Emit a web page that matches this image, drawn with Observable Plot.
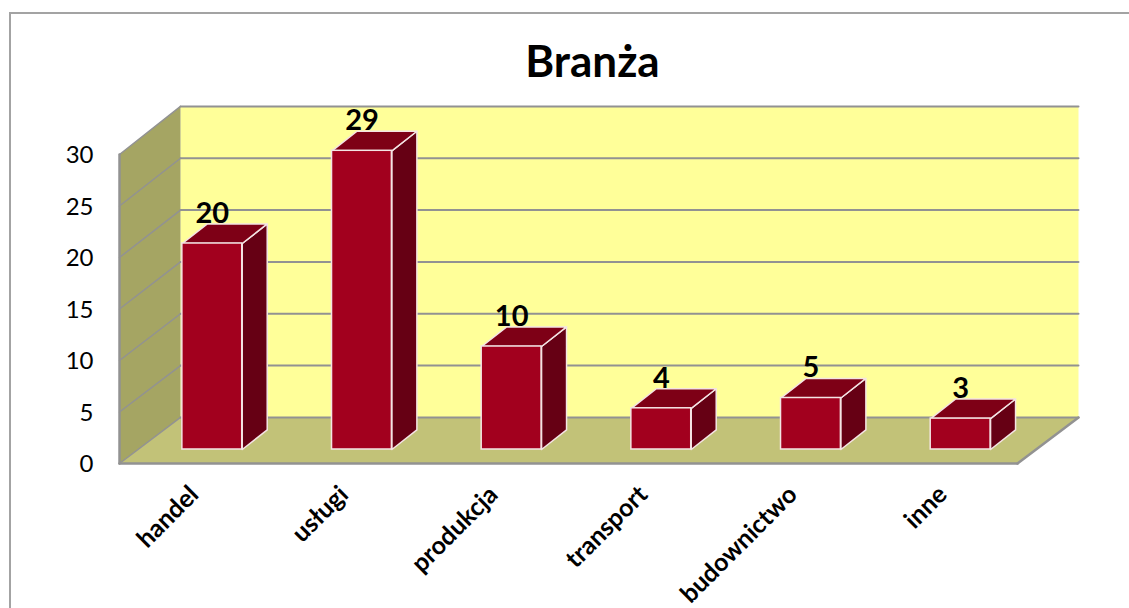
<!DOCTYPE html>
<html><head><meta charset="utf-8">
<script src="https://cdn.jsdelivr.net/npm/d3@7"></script>
<script src="https://cdn.jsdelivr.net/npm/@observablehq/plot@0.6"></script>
<style>
html,body{margin:0;padding:0;background:#fff;overflow:hidden}
#frame{position:absolute;left:9px;top:12px;right:-5px;bottom:-5px;border:2px solid #a3a3a3;box-sizing:border-box}
#title{position:relative;height:90px;width:1129px;box-sizing:border-box;padding-top:34px;padding-left:56px;text-align:center;font:700 44px/52px Lato,sans-serif;color:#000}
#chart svg{display:block;background:transparent}
</style></head><body>
<div id="frame"></div>
<div id="title">Branża</div>
<div id="chart"></div>
<script>
const categories = ["handel","usługi","produkcja","transport","budownictwo","inne"];
const values = [20,29,10,4,5,3];
const yTicks = [0,5,10,15,20,25,30];

// Fake-3D geometry, in data units of the x and y scales
const wallDx = 0.4076, wallDy = 4.47, backScale = 1.0067;
const barOff = 0.42, barW = 0.4, barBase = 1.36, barDx = 0.167, barDy = 1.9;

const poly = (id, pts) => pts.map(([x,y]) => ({id, x, y}));
const backY = v => wallDy + v * backScale;

const back  = poly("back",  [[wallDx,backY(0)],[wallDx,backY(30)],[6+wallDx,backY(30)],[6+wallDx,backY(0)]]);
const left  = poly("left",  [[0,0],[0,30],[wallDx,backY(30)],[wallDx,backY(0)]]);
const floor = poly("floor", [[0,0],[wallDx,backY(0)],[6+wallDx,backY(0)],[6,0]]);

const gridBack = yTicks.flatMap(v => poly("b"+v, [[wallDx,backY(v)],[6+wallDx,backY(v)]]));
const gridLeft = yTicks.flatMap(v => poly("l"+v, [[0,v],[wallDx,backY(v)]]));
const edges = [
  ...poly("axisL", [[0,0],[0,30]]),
  ...poly("axisB", [[0,0],[6,0]]),
  ...poly("floorR", [[6,0],[6+wallDx,backY(0)]])
];

const fronts = values.map((v,i) => ({x1:i+barOff, x2:i+barOff+barW, y1:barBase, y2:barBase+v}));
const tops = values.flatMap((v,i) => {
  const a=i+barOff, b=a+barW, t=barBase+v;
  return poly("t"+i, [[a,t],[a+barDx,t+barDy],[b+barDx,t+barDy],[b,t]]);
});
const sides = values.flatMap((v,i) => {
  const b=i+barOff+barW, t=barBase+v;
  return poly("s"+i, [[b,barBase],[b,t],[b+barDx,t+barDy],[b+barDx,barBase+barDy]]);
});
const labels = values.map((v,i) => ({x:i+barOff+barW/2, y:barBase+v, v}));

const chart = Plot.plot({
  width: 1129, height: 518,
  marginLeft: 119, marginRight: 112, marginTop: 64, marginBottom: 145,
  x: {domain:[0,6], axis:null},
  y: {domain:[0,30], axis:null},
  style: {background:"transparent"},
  marks: [
    Plot.line(back,  {x:"x",y:"y",z:"id",fill:"#ffff99",stroke:"none",curve:"linear-closed"}),
    Plot.line(left,  {x:"x",y:"y",z:"id",fill:"#a5a563",stroke:"none",curve:"linear-closed"}),
    Plot.line(floor, {x:"x",y:"y",z:"id",fill:"#c2c278",stroke:"none",curve:"linear-closed"}),
    Plot.line(gridBack, {x:"x",y:"y",z:"id",stroke:"#929292",strokeWidth:2}),
    Plot.line(gridLeft, {x:"x",y:"y",z:"id",stroke:"#929292",strokeWidth:1.5}),
    Plot.line(edges, {x:"x",y:"y",z:"id",stroke:"#929292",strokeWidth:2.5}),
    Plot.axisY({ticks:yTicks, tickSize:0, tickPadding:26, dy:1, label:null, fontSize:24, fontFamily:"Lato, sans-serif", fill:"#000"}),
    Plot.axisX({ticks:categories.map((c,i)=>i+0.5), tickFormat:x=>categories[Math.floor(x)], tickSize:0, tickPadding:27, tickRotate:-45, label:null, fontSize:25, fontWeight:700, fontFamily:"Lato, sans-serif", fill:"#000"}),
    Plot.line(sides, {x:"x",y:"y",z:"id",fill:"#660014",stroke:"#f4e4e4",strokeWidth:1.5,curve:"linear-closed"}),
    Plot.line(tops,  {x:"x",y:"y",z:"id",fill:"#7e0016",stroke:"#f4e4e4",strokeWidth:1.5,curve:"linear-closed"}),
    Plot.rect(fronts, {x1:"x1",x2:"x2",y1:"y1",y2:"y2",fill:"#a2001e",stroke:"#f4e4e4",strokeWidth:1.5}),
    Plot.text(labels, {x:"x",y:"y",text:"v",dy:-30,fontSize:29,fontWeight:700,fontFamily:"Lato, sans-serif",fill:"#000"})
  ]
});
document.getElementById("chart").appendChild(chart);
</script></body></html>
